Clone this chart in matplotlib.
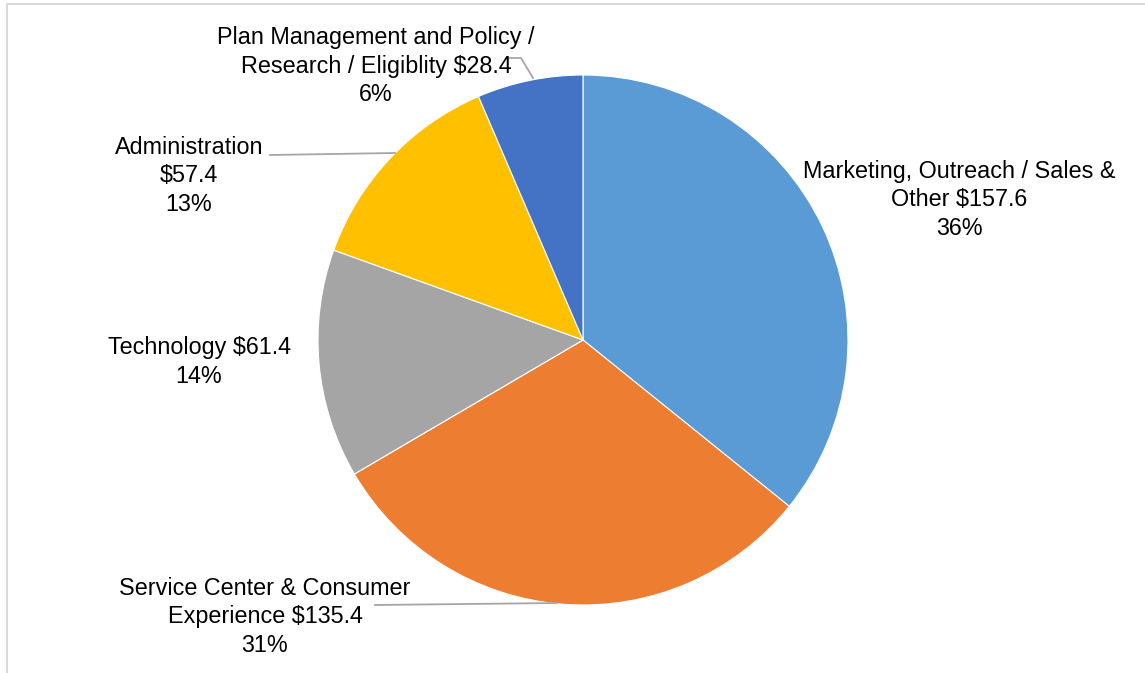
import matplotlib.pyplot as plt

plt.rcParams['font.family'] = ['Liberation Sans', 'DejaVu Sans']

labels = ["Marketing, Outreach / Sales &\nOther",
          "Service Center & Consumer\nExperience",
          "Technology",
          "Administration\n",
          "Plan Management and Policy /\nResearch / Eligiblity"]
values = [157.6, 135.4, 61.4, 57.4, 28.4]
colors = ["#5B9BD5", "#ED7D31", "#A5A5A5", "#FFC000", "#4472C4"]

# label positions in pixel space (y grows downwards)
label_pos = [(959, 200), (265, 617), (199, 362), (189, 176), (376, 66)]
leaders = {1: [(375, 605), (557, 603)],
           3: [(270, 155), (395, 153)],
           4: [(510, 58), (521, 58), (533, 78)]}

fig = plt.figure(figsize=(11.45, 6.73), dpi=100)
ax = fig.add_axes([0, 0, 1, 1])

# inverted y, so pie goes clockwise with counterclock=True
ax.pie(values, colors=colors, startangle=-90, counterclock=True,
       center=(583, 340), radius=265, frame=True,
       wedgeprops=dict(linewidth=0.8, edgecolor='white'))
ax.set_xlim(0, 1145)
ax.set_ylim(673, 0)
ax.set_aspect('equal')
ax.axis('off')

# outer chart frame (only left and top visible)
ax.plot([7, 7, 1145], [673, 4, 4], color='#D9D9D9', lw=1.5)

total = sum(values)
for i, (lab, v) in enumerate(zip(labels, values)):
    pct = round(v / total * 100)
    if i == 3:
        txt = "Administration\n$%.1f\n%d%%" % (v, pct)
    else:
        txt = "%s $%.1f\n%d%%" % (lab, v, pct)
    x, y = label_pos[i]
    ax.text(x, y, txt, ha='center', va='center', multialignment='center',
            fontsize=16.8, color='black', linespacing=1.28)

for pts in leaders.values():
    xs, ys = zip(*pts)
    ax.plot(xs, ys, color='#A6A6A6', lw=1.3)

plt.savefig("out.png", dpi=100)
